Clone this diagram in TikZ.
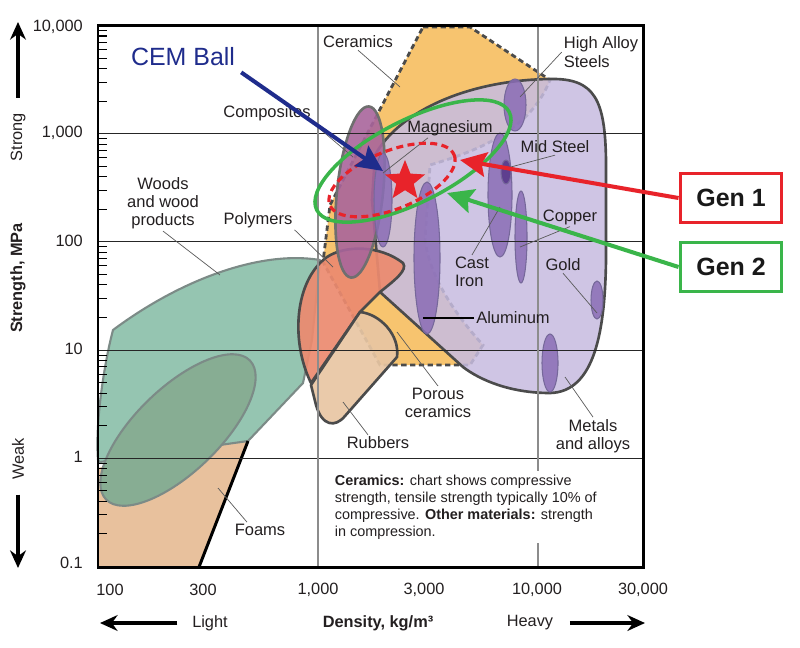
\documentclass[tikz,border=0pt]{standalone}
\usepackage{fontspec}
\setmainfont{Liberation Sans}
\usetikzlibrary{arrows.meta,shapes.geometric,calc}

\definecolor{woodfill}{HTML}{95C5B1}
\definecolor{woodline}{HTML}{7C8B87}
\definecolor{foamfill}{HTML}{E8C19D}
\definecolor{overlapfill}{HTML}{87AD93}
\definecolor{polyfill}{HTML}{EC8A6F}
\definecolor{rubberfill}{HTML}{E8C6A3}
\definecolor{ceramicfill}{HTML}{F7C46F}
\definecolor{metalfill}{HTML}{C7BCE0}
\definecolor{compfill}{HTML}{A9659B}
\definecolor{bubblefill}{HTML}{8B6DB6}
\definecolor{bubbledark}{HTML}{5E3F8F}
\definecolor{bubbleline}{HTML}{76689A}
\definecolor{darkline}{HTML}{4B4B4B}
\definecolor{leadergray}{HTML}{5A5A5A}
\definecolor{labeltext}{HTML}{231F20}
\definecolor{cemblue}{HTML}{1F2C8C}
\definecolor{genred}{HTML}{E8232A}
\definecolor{gengreen}{HTML}{3AB54A}

\begin{document}
\begin{tikzpicture}[x=0.02cm,y=-0.02cm,
	region/.style={draw=darkline,line width=1.5pt,line join=round},
	bubble/.style={fill=bubblefill,fill opacity=0.85,draw=bubbleline,line width=0.6pt},
	lbl/.style={font=\fontsize{9.4}{10.4}\selectfont,text=labeltext,inner sep=1pt,align=center},
	leader/.style={draw=leadergray,line width=0.4pt},
	ticklbl/.style={font=\fontsize{9.3}{10}\selectfont,text=labeltext},
	gridh/.style={draw=black!85,line width=0.6pt},
	gridv/.style={draw=black!45,line width=0.6pt},
	bigarrow/.style={-{Stealth[length=10pt,width=9pt]},line width=2.3pt},
	callout/.style={-{Stealth[length=15pt,width=14pt,inset=2.5pt]},line width=2.3pt},
	genbox/.style={draw,line width=1.7pt,fill=white,minimum width=58pt,minimum height=28pt,font=\fontsize{14.2}{15}\selectfont\bfseries,text=black!90}
	]
	\useasboundingbox (0,0) rectangle (800,647);

	% material fields
	\fill[foamfill] (98,468) -- (98,567) -- (199,567) -- (248,441) -- (200,440) -- cycle;
	\draw[woodline,line width=1.2pt,fill=woodfill,line join=round] (98,460) .. controls (95,420) and (105,360) .. (113,330)
		.. controls (180,280) and (260,250) .. (320,260) -- (312,340) -- (303,383) -- (248,441) -- (100,462) -- cycle;
	\draw[woodline,line width=1.2pt,fill=overlapfill,rotate around={44:(178,430)}] (178,430) ellipse [x radius=100,y radius=42];
	\draw[black,line width=1.7pt] (199,567) -- (248,441);

	\draw[draw=darkline,line width=1.6pt,dash pattern=on 3pt off 2pt,fill=ceramicfill] (423,27) -- (470,27) -- (550,80)
		.. controls (530,130) and (480,150) .. (430,165) -- (425,240) .. controls (430,280) and (460,320) .. (483,345)
		-- (470,365) -- (380,365) -- (323,262) -- (330,205) -- cycle;
	\draw[region,fill=metalfill,fill opacity=0.86] (375,155) .. controls (400,110) and (470,80) .. (550,79)
		.. controls (595,78) and (605,100) .. (606,160) -- (606,260) .. controls (605,330) and (595,392) .. (550,393)
		.. controls (510,393) and (480,380) .. (463,367) -- (380,292) -- (372,200) -- cycle;
	\draw[region,fill=polyfill,fill opacity=0.92] (311,383) .. controls (290,340) and (295,280) .. (327,257)
		.. controls (345,245) and (380,245) .. (403,263) .. controls (408,270) and (395,280) .. (380,292) -- (360,312) -- cycle;
	\draw[region,fill=rubberfill,fill opacity=0.92] (360,312) .. controls (380,314) and (400,335) .. (397,357) -- (345,416)
		.. controls (335,428) and (322,426) .. (316,405) -- (311,385) -- cycle;
	\draw[region,draw=darkline!80,fill=compfill,fill opacity=0.9,rotate around={-6:(360,192)}] (360,192) ellipse [x radius=23,y radius=86];

	\draw[bubble] (383,200) ellipse [x radius=9,y radius=47];
	\draw[bubble] (515,105) ellipse [x radius=11,y radius=26];
	\draw[bubble] (500,195) ellipse [x radius=12,y radius=62];
	\draw[fill=bubbledark,draw=bubbleline,line width=0.6pt] (506,172) ellipse [x radius=5,y radius=12];
	\draw[bubble] (521,237) ellipse [x radius=6,y radius=46];
	\draw[bubble] (427,258) ellipse [x radius=13,y radius=76];
	\draw[bubble] (597,300) ellipse [x radius=6,y radius=19];
	\draw[bubble] (550,363) ellipse [x radius=8,y radius=29];

	% grid, ticks and frame
	\foreach \k in {1,...,4}
		\draw[gridh] (98,{25.5+108.2*\k}) -- (643,{25.5+108.2*\k});
	\draw[gridv] (318,25) -- (318,567);
	\draw[gridv] (538,25) -- (538,567);
	\foreach \d in {0,...,4}
		\foreach \k in {2,...,9}
			\draw[black,line width=0.6pt] (98,{566.5-108.2*(\d+log10(\k))}) -- (107,{566.5-108.2*(\d+log10(\k))});
	\draw[line width=1.7pt] (98,25) rectangle (643,567);

	\node[ticklbl,anchor=east] (y10000) at (89,27) {10,000};
	\node[ticklbl,anchor=east] (y1000) at (89,133) {1,000};
	\node[ticklbl,anchor=east] (y100) at (89,241) {100};
	\node[ticklbl,anchor=east] (y10) at (89,349) {10};
	\node[ticklbl,anchor=east] (y1) at (89,457) {1};
	\node[ticklbl,anchor=east] (y01) at (89,563) {0.1};
	\node[ticklbl] (x100) at (110,590) {100};
	\node[ticklbl] (x300) at (203,590) {300};
	\node[ticklbl] (x1000) at (318,590) {1,000};
	\node[ticklbl] (x3000) at (424,590) {3,000};
	\node[ticklbl] (x10000) at (537,590) {10,000};
	\node[ticklbl] (x30000) at (643,590) {30,000};

	% axis titles
	\node[ticklbl,font=\fontsize{9.3}{10}\selectfont\bfseries,rotate=90] (strengthlbl) at (18,278) {Strength, MPa};
	\node[ticklbl,rotate=90] (stronglbl) at (18,137) {Strong};
	\node[ticklbl,rotate=90] (weaklbl) at (18,459) {Weak};
	\node[ticklbl,font=\fontsize{9.3}{10}\selectfont\bfseries] (densitylbl) at (378,623) {Density, kg/m³};
	\node[ticklbl] (lightlbl) at (210,623) {Light};
	\node[ticklbl] (heavylbl) at (530,623) {Heavy};
	\coordinate (strongtip) at (18,22);
	\coordinate (weaktip) at (18,568);
	\coordinate (lighttip) at (100,623);
	\coordinate (heavytip) at (645,623);
	\draw[bigarrow,shorten <=5pt] (stronglbl.east) -- (strongtip);
	\draw[bigarrow,shorten <=5pt] (weaklbl.west) -- (weaktip);
	\draw[bigarrow,shorten <=5pt] (lightlbl.west) -- (lighttip);
	\draw[bigarrow,shorten <=6pt] (heavylbl.east) -- (heavytip);

	% field labels
	\node[lbl] (ceramicslbl) at (358,42) {Ceramics};
	\node[lbl,align=left] (steelslbl) at (601,52) {High Alloy\\Steels};
	\node[lbl] (compositeslbl) at (267,113) {Composites};
	\node[lbl] (magnesiumlbl) at (450,128) {Magnesium};
	\node[lbl] (midsteellbl) at (555,147) {Mid Steel};
	\node[lbl] (woodslbl) at (163,203) {Woods\\and wood\\products};
	\node[lbl] (polymerslbl) at (258,220) {Polymers};
	\node[lbl] (copperlbl) at (570,217) {Copper};
	\node[lbl,align=left] (castironlbl) at (472,272) {Cast\\Iron};
	\node[lbl] (goldlbl) at (563,265) {Gold};
	\node[lbl] (aluminumlbl) at (513,318) {Aluminum};
	\node[lbl] (porouslbl) at (438,403) {Porous\\ceramics};
	\node[lbl] (rubberslbl) at (378,443) {Rubbers};
	\node[lbl] (metalslbl) at (593,436) {Metals\\and alloys};
	\node[lbl] (foamslbl) at (260,530) {Foams};
	\node[anchor=north west,align=left,fill=white,inner sep=2pt,text=labeltext,font=\fontsize{8.2}{9.8}\selectfont] (notelbl) at (331,471)
		{\textbf{Ceramics:} chart shows compressive\\strength, tensile strength typically 10\% of\\compressive. \textbf{Other materials:} strength\\in compression.};

	\coordinate (ceramicspt) at (400,87);
	\coordinate (steelspt) at (520,97);
	\coordinate (compositespt) at (353,157);
	\coordinate (magnesiumpt) at (383,173);
	\coordinate (midsteelpt) at (507,168);
	\coordinate (woodspt) at (220,275);
	\coordinate (polymerspt) at (333,267);
	\coordinate (copperpt) at (520,247);
	\coordinate (castironpt) at (500,207);
	\coordinate (goldpt) at (597,313);
	\coordinate (aluminumpt) at (423,318);
	\coordinate (porouspt) at (397,332);
	\coordinate (rubberspt) at (343,402);
	\coordinate (metalspt) at (565,377);
	\coordinate (foamspt) at (218,488);
	\draw[leader] (ceramicslbl.south) -- (ceramicspt);
	\draw[leader] (steelslbl.west) -- (steelspt);
	\draw[leader] (compositeslbl.south east) -- (compositespt);
	\draw[leader] ($(magnesiumlbl.south)+(-22,0)$) -- (magnesiumpt);
	\draw[leader] (midsteellbl.south) -- (midsteelpt);
	\draw[leader] (woodslbl.south) -- (woodspt);
	\draw[leader] (polymerslbl.south east) -- (polymerspt);
	\draw[leader] (copperlbl.south) -- (copperpt);
	\draw[leader] (castironlbl.north) -- (castironpt);
	\draw[leader] (goldlbl.south) -- (goldpt);
	\draw[black,line width=0.8pt] (aluminumlbl.west) -- (aluminumpt);
	\draw[leader] (porouslbl.north) -- (porouspt);
	\draw[leader] ($(rubberslbl.north)+(-10,0)$) -- (rubberspt);
	\draw[leader] (metalslbl.north) -- (metalspt);
	\draw[leader] ($(foamslbl.north)+(-13,0)$) -- (foamspt);

	% generations and the ball
	\draw[gengreen,line width=2pt,rotate around={27:(413,161)}] (413,161) ellipse [x radius=108,y radius=41];
	\draw[genred,line width=1.8pt,dash pattern=on 4pt off 2.5pt,rotate around={22:(392,180)}] (392,180) ellipse [x radius=67,y radius=29];
	\node[star,star points=5,star point ratio=2.3,fill=genred,minimum size=24pt,inner sep=0pt] (cemstar) at (405,181) {};

	\node[font=\fontsize{14.2}{15}\selectfont,text=cemblue] (cemlbl) at (183,57) {CEM Ball};
	\coordinate (cemtip) at (383,171);
	\draw[callout,cemblue] (cemlbl.south east) -- (cemtip);

	\node[genbox,draw=genred] (gen1) at (731,198) {Gen 1};
	\node[genbox,draw=gengreen] (gen2) at (731,267) {Gen 2};
	\coordinate (gen1tip) at (460,160);
	\coordinate (gen2tip) at (447,193);
	\draw[callout,genred] (gen1.west) -- (gen1tip);
	\draw[callout,gengreen] (gen2.west) -- (gen2tip);
\end{tikzpicture}
\end{document}
